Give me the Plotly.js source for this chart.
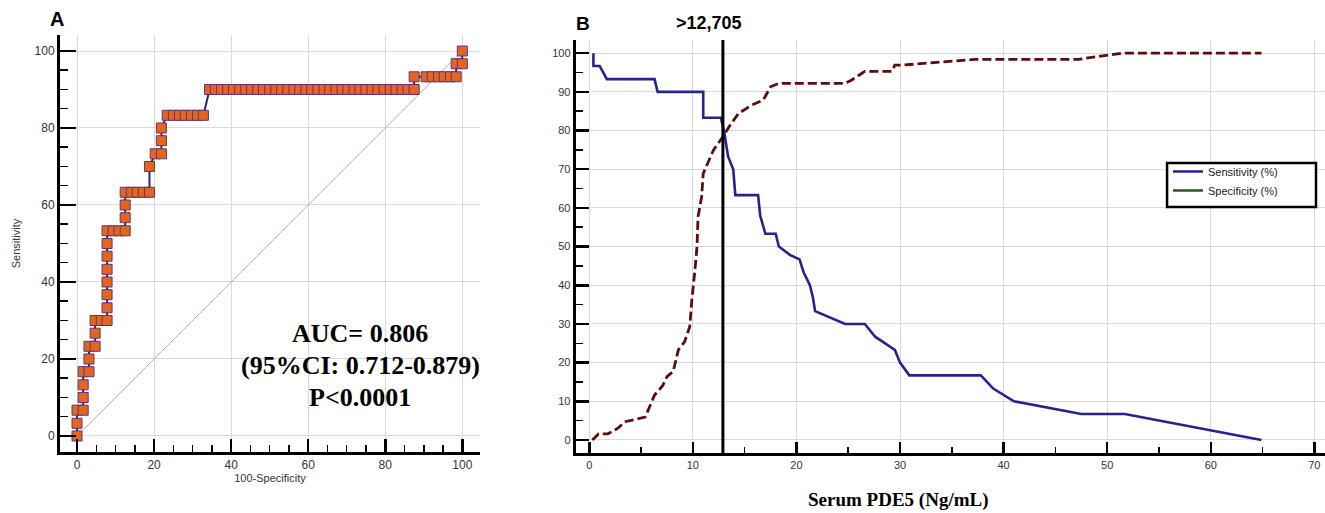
<!DOCTYPE html>
<html>
<head>
<meta charset="utf-8">
<script src="https://cdn.plot.ly/plotly-3.0.1.min.js"></script>
<style>html,body{margin:0;padding:0;background:#fff;}#chart{width:1325px;height:513px;}</style>
</head>
<body>
<div id="chart"></div>
<script>
// ---------- Panel A: ROC curve ----------
const rocX = [0, 0, 0, 1.6, 1.6, 1.6, 1.6, 3.1, 3.1, 3.1, 4.7, 4.7, 4.7, 6.3, 7.8,
  7.8, 7.8, 7.8, 7.8, 7.8, 7.8, 7.8, 9.4, 10.9, 12.5, 12.5, 12.5, 12.5, 14.1, 15.6, 17.2, 18.8,
  18.8, 20.3, 21.9, 21.9, 21.9,
  23.4, 25.0, 26.6, 28.1, 29.7, 31.3, 32.8,
  34.4, 35.9, 37.5, 39.1, 40.6, 42.2, 43.8, 45.3, 46.9, 48.4, 50.0, 51.6, 53.1, 54.7, 56.3,
  57.8, 59.4, 60.9, 62.5, 64.1, 65.6, 67.2, 68.8, 70.3, 71.9, 73.4, 75.0, 76.6, 78.1, 79.7,
  81.3, 82.8, 84.4, 85.9, 87.5,
  87.5, 90.6, 92.2, 93.8, 95.3, 96.9, 98.4,
  98.4, 100,
  100];
const rocY = [0, 3.3, 6.7, 6.7, 10, 13.3, 16.7, 16.7, 20, 23.3, 23.3, 26.7, 30, 30, 30,
  33.3, 36.7, 40, 43.3, 46.7, 50, 53.3, 53.3, 53.3, 53.3, 56.7, 60, 63.3, 63.3, 63.3, 63.3, 63.3,
  70, 73.3, 73.3, 76.7, 80,
  83.3, 83.3, 83.3, 83.3, 83.3, 83.3, 83.3,
  90, 90, 90, 90, 90, 90, 90, 90, 90, 90, 90, 90, 90, 90, 90,
  90, 90, 90, 90, 90, 90, 90, 90, 90, 90, 90, 90, 90, 90, 90,
  90, 90, 90, 90, 90,
  93.3, 93.3, 93.3, 93.3, 93.3, 93.3, 93.3,
  96.7, 96.7,
  100];
const diagX = [0, 100];
const diagY = [0, 100];
const aucLines = ["AUC= 0.806", "(95%CI: 0.712-0.879)", "P<0.0001"];

// ---------- Panel B: sensitivity / specificity vs criterion ----------
const sensX = [0.4, 0.4, 1.0, 1.7, 6.3, 6.6, 11.0, 11.0, 12.7, 13.0, 13.4, 13.9, 14.1, 16.3, 16.5, 17.0, 18.0, 18.3,
  19.4, 20.3, 20.7, 21.3, 21.6, 21.8, 24.7, 26.6, 27.6, 29.5, 30.0, 30.9, 37.8, 39.0, 41.0, 47.5, 51.7, 64.9];
const sensY = [100, 96.7, 96.7, 93.3, 93.3, 90, 90, 83.3, 83.3, 80, 73.3, 70, 63.3, 63.3, 58, 53.3, 53.3, 50,
  47.8, 46.7, 43.3, 40, 36.7, 33.3, 30, 30, 26.7, 23.3, 20, 16.7, 16.7, 13.3, 10, 6.7, 6.7, 0];
const specX = [0.3, 0.9, 1.8, 2.8, 3.4, 5.4, 6.3, 7.1, 7.5, 8.1, 8.6, 9.2, 9.7, 9.9, 10.2, 10.4, 10.5, 10.85, 11.0,
  12.0, 12.9, 13.6, 14.4, 15.7, 16.8, 17.5, 18.3, 24.7, 25.3, 26.6, 29.2, 29.5, 30.2, 37.2, 47.2, 51.4, 64.9];
const specY = [0, 1.6, 1.6, 3.1, 4.7, 5.9, 11.6, 14.1, 16.4, 17.7, 23.3, 25.4, 29.3, 36.2, 43.9, 50, 57.7, 62.9, 68.9,
  75, 78.4, 81.4, 84.4, 86.6, 87.9, 91.3, 92.2, 92.2, 93.0, 95.3, 95.3, 96.9, 96.9, 98.4, 98.4, 100, 100];
const cutoffValue = 12.9;
const cutoffLabel = ">12,705";
const seriesNames = ["Sensitivity (%)", "Specificity (%)"];

const sansFont = "Liberation Sans, Arial, sans-serif";
const serifFont = "Liberation Serif, Times New Roman, serif";
const gridC = "#d9d9d9";

function axisBase(extra) {
  return Object.assign({
    showline: true, linecolor: "#000", linewidth: 3, mirror: false,
    ticks: "inside", tickcolor: "#000", tickwidth: 2.5,
    showgrid: true, gridcolor: gridC, gridwidth: 1, zeroline: false,
    tickfont: {family: sansFont, color: "#333"}
  }, extra);
}

const traces = [
  {x: diagX, y: diagY, xaxis: "x", yaxis: "y", mode: "lines", showlegend: false, hoverinfo: "skip",
   line: {color: "#d2a6a6", width: 1}},
  {x: rocX, y: rocY, xaxis: "x", yaxis: "y", mode: "lines+markers", showlegend: false, cliponaxis: false,
   line: {color: "#25238c", width: 2},
   marker: {symbol: "square", size: 10, color: "#E5651E", line: {color: "#5d3578", width: 1}}},
  {x: specX, y: specY, xaxis: "x2", yaxis: "y2", mode: "lines", showlegend: false,
   line: {color: "#5e0b0b", width: 2.8, dash: "9px,4px"}},
  {x: sensX, y: sensY, xaxis: "x2", yaxis: "y2", mode: "lines", showlegend: false,
   line: {color: "#25238c", width: 2.6}},
  {x: [null], y: [null], xaxis: "x2", yaxis: "y2", mode: "lines", name: seriesNames[0],
   line: {color: "#25238c", width: 2.5}},
  {x: [null], y: [null], xaxis: "x2", yaxis: "y2", mode: "lines", name: seriesNames[1],
   line: {color: "#2b5520", width: 2.5}}
];

function label(text, x, y, family, size) {
  return {text: text, xref: "paper", yref: "paper", x: x, y: y, xanchor: "center", yanchor: "middle",
    showarrow: false, font: {family: family, size: size, color: "#000", weight: "bold"}};
}

const layout = {
  width: 1325, height: 513,
  margin: {l: 0, r: 0, t: 0, b: 0},
  paper_bgcolor: "#fff", plot_bgcolor: "#fff",
  font: {family: sansFont, color: "#222"},
  showlegend: true,
  legend: {x: 0.8815, y: 0.694, xanchor: "left", yanchor: "top",
    bgcolor: "rgba(0,0,0,0)", borderwidth: 0,
    font: {family: sansFont, size: 11, color: "#222"}, tracegroupgap: 0},
  xaxis: axisBase({domain: [0.0453, 0.3623], anchor: "y", range: [-4.41, 104.6],
    tick0: 0, dtick: 20, ticklen: 13, tickfont: {family: sansFont, size: 12, color: "#333"},
    minor: {dtick: 5, ticks: "inside", ticklen: 7, tickwidth: 1.5, tickcolor: "#000", showgrid: false},
    title: {text: "100-Specificity", font: {family: sansFont, size: 11, color: "#333"}, standoff: 3}}),
  yaxis: axisBase({domain: [0.1189, 0.9318], anchor: "x", range: [-4.16, 104.16],
    tick0: 0, dtick: 20, ticklen: 16, tickfont: {family: sansFont, size: 12, color: "#333"},
    minor: {dtick: 5, ticks: "inside", ticklen: 8, tickwidth: 1.5, tickcolor: "#000", showgrid: false},
    title: {text: "Sensitivity", font: {family: sansFont, size: 11, color: "#333"}, standoff: 12}}),
  xaxis2: axisBase({domain: [0.4345, 1.0], anchor: "y2", range: [-1.31, 71.03],
    tick0: 0, dtick: 10, ticklen: 11, tickfont: {family: sansFont, size: 11, color: "#333"},
    minor: {dtick: 5, ticks: "inside", ticklen: 6, tickwidth: 1.5, tickcolor: "#000", showgrid: false}}),
  yaxis2: axisBase({domain: [0.1164, 0.9220], anchor: "x2", range: [-3.44, 103.4],
    tick0: 0, dtick: 10, ticklen: 13, tickfont: {family: sansFont, size: 11, color: "#333"},
    minor: {dtick: 5, ticks: "inside", ticklen: 7, tickwidth: 1.5, tickcolor: "#000", showgrid: false}}),
  shapes: [
    {type: "line", xref: "x2", yref: "y2 domain", x0: cutoffValue, x1: cutoffValue, y0: 0, y1: 1,
     line: {color: "#000", width: 3}},
    {type: "rect", xref: "paper", yref: "paper", x0: 0.8808, x1: 0.9932, y0: 0.5965, y1: 0.6823,
     fillcolor: "#fff", line: {color: "#000", width: 2.5}, layer: "above"}
  ],
  annotations: [
    label("A", 0.0428, 0.963, sansFont, 20),
    label("B", 0.4402, 0.955, sansFont, 19),
    label(cutoffLabel, 0.5349, 0.955, sansFont, 18),
    label(aucLines[0], 0.2717, (513 - 333) / 513, serifFont, 26),
    label(aucLines[1], 0.2717, (513 - 365) / 513, serifFont, 26),
    label(aucLines[2], 0.2717, (513 - 397) / 513, serifFont, 26),
    label("Serum PDE5 (Ng/mL)", 0.6774, 0.0253, serifFont, 19)
  ]
};

Plotly.newPlot("chart", traces, layout, {displayModeBar: false, staticPlot: true});
</script>
</body>
</html>
